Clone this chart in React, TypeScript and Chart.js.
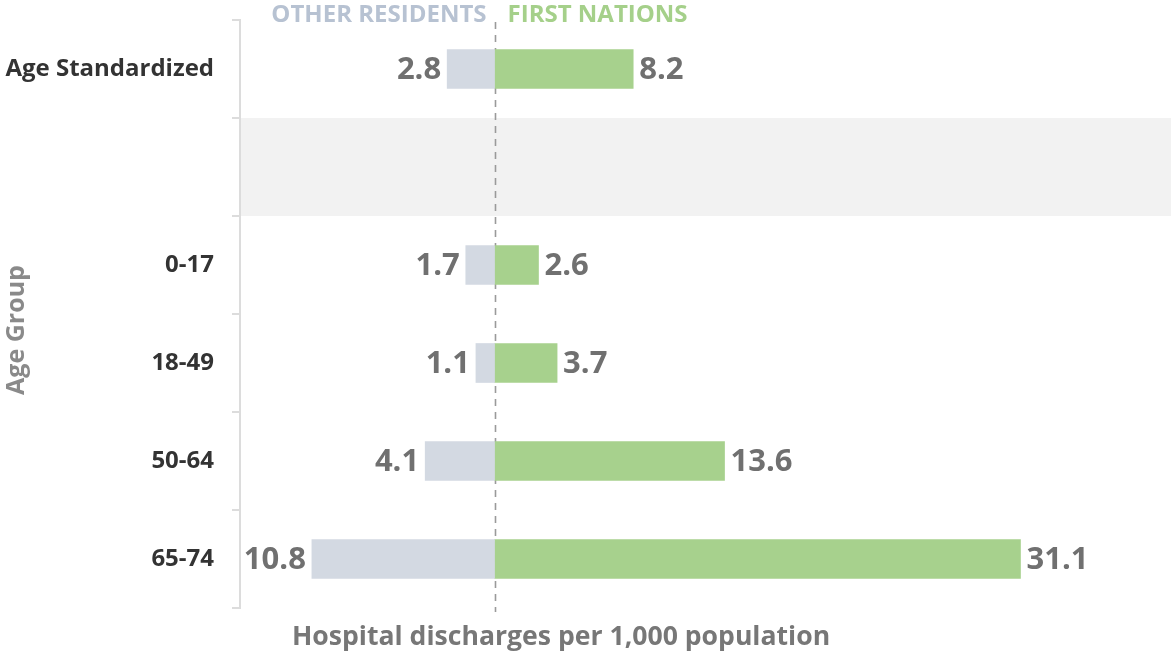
import React, { useEffect, useRef } from 'react';
import { Chart, registerables } from 'chart.js';

Chart.register(...registerables);

const categories = ['Age Standardized', '', '0-17', '18-49', '50-64', '65-74'];
const otherResidents = [2.8, null, 1.7, 1.1, 4.1, 10.8];
const firstNations = [8.2, null, 2.6, 3.7, 13.6, 31.1];
const seriesNames = ['OTHER RESIDENTS', 'FIRST NATIONS'];
const shadedIndex = 1;
const yAxisTitle = 'Age Group';
const xAxisTitle = 'Hospital discharges per 1,000 population';

const FONT = "'Open Sans', 'DejaVu Sans', sans-serif";
const OTHER_COLOR = '#d3d9e2';
const FN_COLOR = '#a7d18d';
const OTHER_TEXT = '#b7c2d2';
const FN_TEXT = '#a5d08a';

const decorPlugin = {
  id: 'decor',
  beforeDatasetsDraw(chart: any) {
    const { ctx, chartArea, scales } = chart;
    const y = scales.y;
    const x = scales.x;
    const step = y.getPixelForValue(1) - y.getPixelForValue(0);
    const cy = y.getPixelForValue(shadedIndex);
    ctx.save();
    ctx.fillStyle = '#f2f2f2';
    ctx.fillRect(chartArea.left + 1, cy - step / 2, chartArea.right - chartArea.left, step);
    ctx.restore();
    const zx = Math.round(x.getPixelForValue(0)) + 0.5;
    ctx.save();
    ctx.strokeStyle = '#9a9a9a';
    ctx.lineWidth = 1.6;
    ctx.setLineDash([7, 6]);
    ctx.beginPath();
    ctx.moveTo(zx, chartArea.top + 2);
    ctx.lineTo(zx, chartArea.bottom + 4);
    ctx.stroke();
    ctx.restore();
  },
  afterDatasetsDraw(chart: any) {
    const { ctx, chartArea, scales } = chart;
    const y = scales.y;
    const x = scales.x;
    const zx = x.getPixelForValue(0);
    ctx.save();
    ctx.font = `bold 31px ${FONT}`;
    ctx.fillStyle = '#707070';
    ctx.textBaseline = 'middle';
    categories.forEach((_, i) => {
      const cy = y.getPixelForValue(i) + 1;
      const o = otherResidents[i];
      const f = firstNations[i];
      if (o != null) {
        ctx.textAlign = 'right';
        ctx.fillText(o.toFixed(1), x.getPixelForValue(-o) - 6, cy);
      }
      if (f != null) {
        ctx.textAlign = 'left';
        ctx.fillText(f.toFixed(1), x.getPixelForValue(f) + 6, cy);
      }
    });
    ctx.font = `bold 24px ${FONT}`;
    ctx.textBaseline = 'middle';
    ctx.textAlign = 'right';
    ctx.fillStyle = OTHER_TEXT;
    ctx.fillText(seriesNames[0], zx - 8, chartArea.top - 5);
    ctx.textAlign = 'left';
    ctx.fillStyle = FN_TEXT;
    ctx.fillText(seriesNames[1], zx + 13, chartArea.top - 5);
    ctx.font = `bold 26.6px ${FONT}`;
    ctx.fillStyle = '#777777';
    ctx.textAlign = 'left';
    ctx.fillText(xAxisTitle, chartArea.left + 52, chartArea.bottom + 29);
    ctx.save();
    ctx.font = `bold 25px ${FONT}`;
    ctx.translate(17, chartArea.top + 310);
    ctx.rotate(-Math.PI / 2);
    ctx.textAlign = 'center';
    ctx.fillStyle = '#8a8a8a';
    ctx.fillText(yAxisTitle, 0, 0);
    ctx.restore();
    ctx.restore();
  },
};

export default function App() {
  const ref = useRef<HTMLCanvasElement>(null);
  useEffect(() => {
    if (!ref.current) return;
    const chart = new Chart(ref.current, {
      type: 'bar',
      data: {
        labels: categories,
        datasets: [
          {
            label: seriesNames[0],
            data: otherResidents.map((v) => (v == null ? null : -v)),
            backgroundColor: OTHER_COLOR,
            barThickness: 39,
            stack: 's',
          },
          {
            label: seriesNames[1],
            data: firstNations,
            backgroundColor: FN_COLOR,
            barThickness: 39,
            stack: 's',
          },
        ],
      },
      options: {
        indexAxis: 'y',
        animation: false,
        responsive: false,
        layout: { padding: { top: 20, bottom: 43, left: 0, right: 0 } },
        plugins: {
          legend: { display: false },
          tooltip: { enabled: false },
        },
        scales: {
          x: {
            display: false,
            stacked: true,
            min: -15.05,
            max: 40,
          },
          y: {
            stacked: true,
            grid: {
              offset: true,
              drawOnChartArea: false,
              drawTicks: true,
              tickLength: 8,
              color: '#dcdcdc',
              lineWidth: 2,
            },
            border: { display: true, color: '#dcdcdc', width: 2 },
            ticks: {
              color: '#333333',
              font: { family: FONT, size: 24, weight: 'bold' },
              padding: 18,
            },
            afterFit: (scale: any) => {
              scale.width = 240;
              scale.paddingTop = 0;
              scale.paddingBottom = 0;
            },
          },
        },
      },
      plugins: [decorPlugin],
    });
    return () => chart.destroy();
  }, []);
  return (
    <div style={{ position: 'fixed', left: 0, top: 0, width: 1171, height: 651, background: '#fff' }}>
      <canvas ref={ref} width={1171} height={651} style={{ width: 1171, height: 651, display: 'block' }} />
    </div>
  );
}
